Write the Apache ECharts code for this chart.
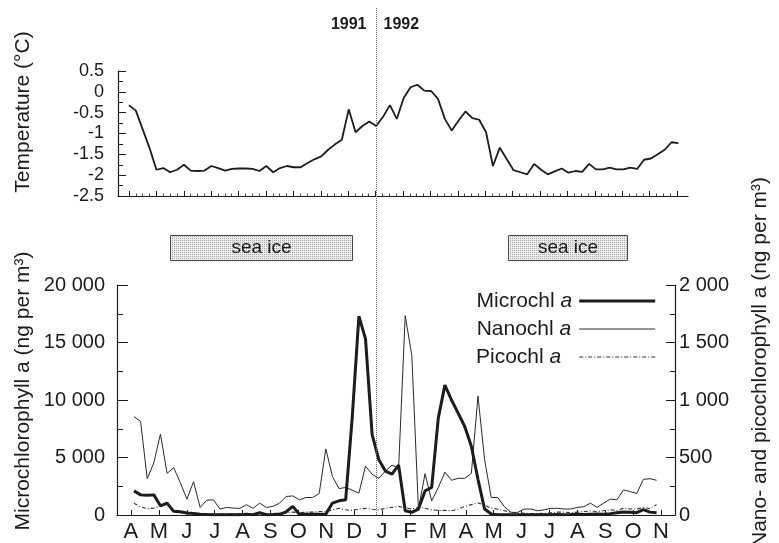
<!DOCTYPE html>
<html>
<head>
<meta charset="utf-8">
<script src="https://cdn.jsdelivr.net/npm/echarts@6/dist/echarts.min.js"></script>
<style>
  html, body { margin: 0; padding: 0; background: #fff; }
  #chart { width: 779px; height: 543px; }
</style>
</head>
<body>
<div id="chart"></div>
<script>
// Month initials, April 1991 to November 1992
const monthLetters = ['A','M','J','J','A','S','O','N','D','J','F','M','A','M','J','J','A','S','O','N'];

// Water temperature (°C), roughly weekly samples from 1 April 1991
const temperature = [
  -0.32, -0.45, -0.9, -1.35, -1.87, -1.83, -1.93, -1.87, -1.75, -1.89,
  -1.9, -1.89, -1.78, -1.83, -1.89, -1.85, -1.84, -1.84, -1.85, -1.9,
  -1.78, -1.93, -1.83, -1.78, -1.81, -1.81, -1.71, -1.62, -1.55, -1.39,
  -1.26, -1.15, -0.42, -0.97, -0.82, -0.71, -0.82, -0.6, -0.32, -0.65,
  -0.15, 0.11, 0.17, 0.03, 0.02, -0.17, -0.65, -0.93, -0.69, -0.47,
  -0.63, -0.67, -0.97, -1.78, -1.34, -1.61, -1.88, -1.93, -1.98, -1.73,
  -1.87, -1.98, -1.91, -1.84, -1.94, -1.9, -1.92, -1.73, -1.86, -1.86,
  -1.82, -1.86, -1.86, -1.82, -1.85, -1.63, -1.6, -1.5, -1.39, -1.21,
  -1.23
];
const tempStart = 0;       // months after 1 April 1991
const tempStep = 0.2506;   // months between samples

// Size-fractionated chlorophyll a (ng per m³)
const microChl = [
  2095, 1750, 1724, 1750, 802, 1034, 319, 284, 172, 140,
  60, 40, 30, 20, 20, 20, 30, 60, 30, 200,
  30, 40, 60, 280, 750, 60, 60, 60, 60, 60,
  1034, 1233, 1320, 8560, 17300, 15317, 6982, 4827, 3820, 3550,
  4340, 370, 230, 517, 2095, 2388, 8422, 11292, 9999, 8853,
  7698, 5974, 3103, 517, 86, 30, 20, 20, 20, 20,
  30, 30, 20, 30, 40, 30, 40, 60, 40, 60,
  80, 60, 120, 200, 260, 240, 200, 460, 250, 200
];
const nanoChl = [
  856, 813, 316, 454, 704, 362, 411, 282, 138, 290,
  66, 129, 132, 52, 66, 60, 58, 89, 58, 103,
  66, 75, 103, 161, 166, 132, 152, 152, 187, 575,
  334, 230, 239, 216, 190, 425, 353, 319, 382, 434,
  405, 1733, 1388, 52, 359, 123, 239, 373, 302, 319,
  319, 362, 1034, 483, 152, 152, 72, 23, 23, 52,
  52, 37, 45, 58, 58, 52, 52, 66, 72, 103,
  66, 103, 138, 132, 218, 204, 187, 310, 316, 302
];
const picoChl = [
  103, 70, 55, 60, 80, 90, 40, 20, 15, 12,
  10, 10, 8, 8, 8, 10, 10, 12, 10, 12,
  10, 12, 15, 20, 25, 20, 25, 25, 30, 30,
  45, 58, 45, 40, 52, 58, 50, 45, 58, 66,
  75, 62, 52, 66, 58, 45, 40, 40, 37, 52,
  75, 90, 105, 86, 60, 50, 37, 23, 17, 15,
  12, 12, 15, 20, 25, 25, 20, 25, 30, 35,
  30, 37, 45, 40, 58, 52, 52, 66, 55, 90
];
const chlStart = 0.609;    // months after 1 April 1991
const chlStep = 0.2371;

// Sea-ice cover periods (months after 1 April 1991)
const iceSpans = [[1.5, 8.15], [13.82, 18.17]];
const yearBreak = 9;       // 1 January 1992

const FONT = '"Liberation Sans", Arial, Helvetica, sans-serif';
const INK = '#1c1c1c';
const LEGEND_TEXT_W = 98;

function spaced(v) {
  return String(v).replace(/\B(?=(\d{3})+(?!\d))/g, ' ');
}
function toPairs(values, start, step) {
  return values.map((v, i) => [start + i * step, v]);
}

// Legend labels: name in roman, the trailing "a" in italics, left-aligned in a fixed column
const measureCtx = document.createElement('canvas').getContext('2d');
function textW(str, italic) {
  measureCtx.font = (italic ? 'italic ' : '') + '21px ' + FONT;
  return measureCtx.measureText(str).width;
}
function legendLabel(name) {
  const p = name.split(' ');
  const w = textW(p[0] + ' ', false) + textW(p[1], true);
  const pad = Math.max(1, Math.round(LEGEND_TEXT_W - w));
  return '{n|' + p[0] + ' }{i|' + p[1] + '}{s' + pad + '| }';
}

const monthTicks = [];
for (let m = 0; m <= 20; m++) monthTicks.push(m);
const quarterTicks = [];
for (let q = 0; q <= 80; q++) if (q % 4) quarterTicks.push(q / 4);
const midMonths = monthLetters.map((_, i) => i + 0.5);

const legendNames = ['Microchl a', 'Nanochl a', 'Picochl a'];
const legendRich = {
  n: { fontSize: 21, color: INK, fontFamily: FONT },
  i: { fontSize: 21, color: INK, fontFamily: FONT, fontStyle: 'italic' }
};
legendNames.forEach(nm => {
  const lbl = legendLabel(nm);
  const key = lbl.match(/\{(s\d+)\|/)[1];
  legendRich[key] = { width: +key.slice(1), fontSize: 21, fontFamily: FONT };
});

const chart = echarts.init(document.getElementById('chart'), null, { renderer: 'canvas' });

const axisLine = { show: true, onZero: false, lineStyle: { color: INK, width: 1.2 } };

chart.setOption({
  animation: false,
  backgroundColor: '#fff',
  textStyle: { fontFamily: FONT, color: INK },
  grid: [
    { left: 118, right: 91, top: 71, bottom: 347 },
    { left: 117, right: 104, top: 285, bottom: 27 }
  ],
  xAxis: [
    {
      type: 'value', gridIndex: 0, min: -0.4, max: 20.4,
      axisLine: axisLine,
      axisTick: { show: true, inside: true, length: 5, customValues: monthTicks, lineStyle: { color: INK } },
      axisLabel: { show: false },
      splitLine: { show: false }
    },
    {
      type: 'value', gridIndex: 0, min: -0.4, max: 20.4, position: 'bottom',
      axisLine: { show: false, onZero: false },
      axisTick: { show: true, inside: true, length: 2.5, customValues: quarterTicks, lineStyle: { color: '#444' } },
      axisLabel: { show: false },
      splitLine: { show: false }
    },
    {
      type: 'value', gridIndex: 1, min: 0, max: 20,
      axisLine: axisLine,
      axisTick: { show: true, inside: true, length: 5, customValues: midMonths, lineStyle: { color: INK } },
      axisLabel: {
        show: true, customValues: midMonths, margin: 6,
        fontSize: 22, color: INK, fontFamily: FONT,
        formatter: v => monthLetters[Math.round(v - 0.5)] || ''
      },
      splitLine: { show: false }
    }
  ],
  yAxis: [
    {
      type: 'value', gridIndex: 0, min: -2.5, max: 0.5, interval: 0.5,
      axisLine: axisLine,
      axisTick: { show: true, inside: true, length: 8, lineStyle: { color: INK } },
      minorTick: { show: true, splitNumber: 2, length: 5, lineStyle: { color: INK } },
      axisLabel: { fontSize: 18, margin: 14, color: INK, fontFamily: FONT },
      splitLine: { show: false }
    },
    {
      type: 'value', gridIndex: 1, min: 0, max: 20000, interval: 5000, position: 'left',
      axisLine: axisLine,
      axisTick: { show: true, inside: true, length: 11, lineStyle: { color: INK } },
      minorTick: { show: true, splitNumber: 2, length: 6, lineStyle: { color: INK } },
      axisLabel: { fontSize: 20, margin: 12, color: INK, fontFamily: FONT, formatter: spaced },
      splitLine: { show: false }
    },
    {
      type: 'value', gridIndex: 1, min: 0, max: 2000, interval: 500, position: 'right',
      axisLine: axisLine,
      axisTick: { show: true, inside: true, length: 9, lineStyle: { color: INK } },
      minorTick: { show: true, splitNumber: 2, length: 5, lineStyle: { color: INK } },
      axisLabel: { fontSize: 20, margin: 4, color: INK, fontFamily: FONT, formatter: spaced },
      splitLine: { show: false }
    }
  ],
  legend: {
    orient: 'vertical',
    left: 476, top: 290,
    padding: 0,
    align: 'right',
    itemWidth: 76, itemHeight: 14, itemGap: 6,
    selectedMode: false,
    itemStyle: { opacity: 0 },
    lineStyle: { width: 'inherit', type: 'inherit' },
    textStyle: {
      fontSize: 21, lineHeight: 22, color: INK, fontFamily: FONT,
      rich: legendRich
    },
    formatter: legendLabel,
    data: legendNames
  },
  series: [
    {
      name: 'Temperature', type: 'line', xAxisIndex: 0, yAxisIndex: 0,
      data: toPairs(temperature, tempStart, tempStep),
      showSymbol: false, symbol: 'none',
      lineStyle: { color: INK, width: 1.8 }
    },
    {
      name: 'Microchl a', type: 'line', xAxisIndex: 2, yAxisIndex: 1,
      data: toPairs(microChl, chlStart, chlStep),
      showSymbol: false, symbol: 'none', z: 4,
      itemStyle: { color: INK },
      lineStyle: { color: INK, width: 3 }
    },
    {
      name: 'Nanochl a', type: 'line', xAxisIndex: 2, yAxisIndex: 2,
      data: toPairs(nanoChl, chlStart, chlStep),
      showSymbol: false, symbol: 'none', z: 3,
      itemStyle: { color: '#2a2a2a' },
      lineStyle: { color: '#2a2a2a', width: 1 }
    },
    {
      name: 'Picochl a', type: 'line', xAxisIndex: 2, yAxisIndex: 2,
      data: toPairs(picoChl, chlStart, chlStep),
      showSymbol: false, symbol: 'none', z: 2,
      itemStyle: { color: '#333' },
      lineStyle: { color: '#333', width: 1.1, type: [4, 2, 1, 2] }
    }
  ]
});

// Fine dotted fill for the sea-ice bars
const dots = document.createElement('canvas');
dots.width = 2; dots.height = 2;
const g = dots.getContext('2d');
g.fillStyle = '#ececec'; g.fillRect(0, 0, 2, 2);
g.fillStyle = '#a8a8a8'; g.fillRect(0, 0, 1, 1);

const px = m => chart.convertToPixel({ xAxisIndex: 0 }, m);
const breakX = Math.round(px(yearBreak)) + 0.5;

const graphics = [
  {
    type: 'line', silent: true, z: 10,
    shape: { x1: breakX, y1: 8, x2: breakX, y2: 516 },
    style: { stroke: '#6a6a6a', lineWidth: 1, lineDash: [1, 1] }
  },
  {
    type: 'text', x: breakX - 10, y: 25, z: 10,
    style: { text: '1991', font: 'bold 16px ' + FONT, fill: INK, textAlign: 'right', textVerticalAlign: 'middle' }
  },
  {
    type: 'text', x: breakX + 7, y: 25, z: 10,
    style: { text: '1992', font: 'bold 16px ' + FONT, fill: INK, textAlign: 'left', textVerticalAlign: 'middle' }
  },
  {
    type: 'text', x: 23, y: 112, rotation: Math.PI / 2,
    style: { text: 'Temperature (°C)', font: '21px ' + FONT, fill: INK, textAlign: 'center', textVerticalAlign: 'middle' }
  },
  {
    type: 'text', x: 23, y: 391, rotation: Math.PI / 2,
    style: { text: 'Microchlorophyll a (ng per m³)', font: '21px ' + FONT, fill: INK, textAlign: 'center', textVerticalAlign: 'middle' }
  },
  {
    type: 'text', x: 760, y: 362, rotation: Math.PI / 2,
    style: { text: 'Nano- and picochlorophyll a (ng per m³)', font: '21px ' + FONT, fill: INK, textAlign: 'center', textVerticalAlign: 'middle' }
  }
];

iceSpans.forEach(([a, b]) => {
  const x1 = Math.round(px(a)) + 0.5, x2 = Math.round(px(b)) + 0.5;
  graphics.push({
    type: 'rect', silent: true,
    shape: { x: x1, y: 235.5, width: x2 - x1, height: 25 },
    style: { fill: { image: dots, repeat: 'repeat' }, stroke: '#4a4a4a', lineWidth: 1 }
  });
  graphics.push({
    type: 'text', silent: true, x: (x1 + x2) / 2, y: 248,
    style: { text: 'sea ice', font: '19px ' + FONT, fill: INK, textAlign: 'center', textVerticalAlign: 'middle' }
  });
});

chart.setOption({ graphic: graphics });
</script>
</body>
</html>
